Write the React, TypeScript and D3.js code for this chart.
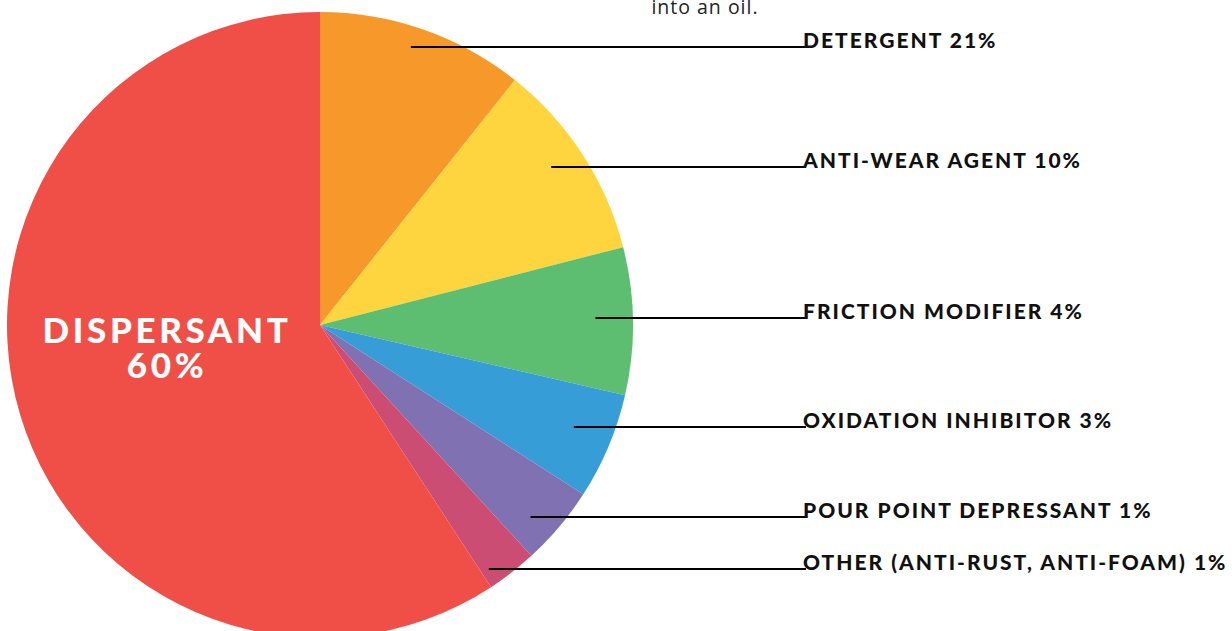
import React from "react";
import * as d3 from "d3";

const categories = [
  "DETERGENT",
  "ANTI-WEAR AGENT",
  "FRICTION MODIFIER",
  "OXIDATION INHIBITOR",
  "POUR POINT DEPRESSANT",
  "OTHER (ANTI-RUST, ANTI-FOAM)",
  "DISPERSANT",
];
// slice sizes as drawn in the picture (share of the circle, %)
const sliceValues = [10.7, 10.3, 7.6, 5.5, 4.1, 2.6, 59.2];
// percentages printed in the labels
const labelPercents = [21, 10, 4, 3, 1, 1, 60];
const colors = ["#F7982A", "#FED43F", "#5DBE72", "#369DD7", "#8071B3", "#CB4D74", "#F04F48"];
// label rows (text baselines) for the right-hand labels
const labelRows = [47, 167, 318, 427, 517, 569];

const W = 1232;
const H = 631;
const cx = 320;
const cy = 325;
const R = 313;
const labelX = 803;
const font = "Lato, 'Open Sans', sans-serif";

export default function App() {
  const pie = d3.pie<number>().value((d) => d).sort(null)(sliceValues);
  const arc = d3.arc<d3.PieArcDatum<number>>().innerRadius(0).outerRadius(R);
  return (
    <svg
      width={W}
      height={H}
      style={{ position: "fixed", left: 0, top: 0, background: "#fff" }}
    >
      <text x={705} y={14} textAnchor="middle" fontFamily="'Open Sans', sans-serif" fontSize={19.5} letterSpacing={1} fill="#222">
        into an oil.
      </text>
      <g transform={`translate(${cx},${cy})`}>
        {pie.map((p, i) => (
          <path key={i} d={arc(p) || ""} fill={colors[i]} />
        ))}
      </g>
      {pie.slice(0, 6).map((p, i) => {
        const mid = (p.startAngle + p.endAngle) / 2;
        const x0 = cx + 0.88 * R * Math.sin(mid);
        const y = labelRows[i];
        return (
          <g key={i}>
            <line x1={x0} x2={labelX + 3} y1={y} y2={y} stroke="#000" strokeWidth={2} />
            <text
              x={labelX}
              y={y + 1}
              fontFamily={font}
              fontWeight={900}
              fontSize={21}
              letterSpacing={2}
              fill="#111"
            >
              {categories[i]} {labelPercents[i]}%
            </text>
          </g>
        );
      })}
      <text
        x={165}
        textAnchor="middle"
        fontFamily={font}
        fontWeight={900}
        fontSize={35}
        letterSpacing={3.6}
        fill="#fff"
      >
        <tspan x={167} y={343}>{categories[6]}</tspan>
        <tspan x={167} y={378}>{labelPercents[6]}%</tspan>
      </text>
    </svg>
  );
}
